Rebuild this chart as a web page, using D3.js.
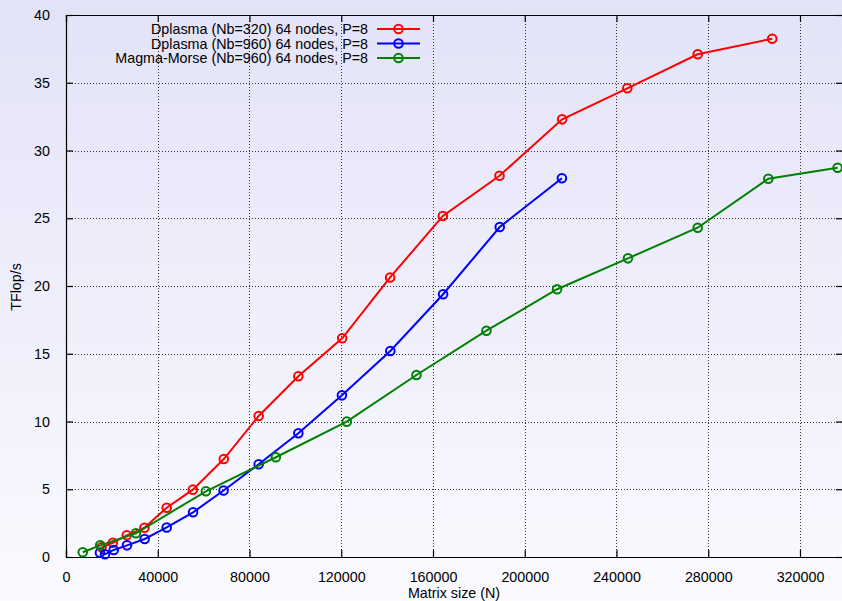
<!DOCTYPE html>
<html>
<head>
<meta charset="utf-8">
<script src="https://cdn.jsdelivr.net/npm/d3@7"></script>
<style>
html,body{margin:0;padding:0;overflow:hidden;}
svg{display:block;font-family:"Liberation Sans",Arial,Helvetica,sans-serif;}
</style>
</head>
<body>
<svg id="chart" width="842" height="601"></svg>
<script>
// ---- data ----
const xTicks = [0, 40000, 80000, 120000, 160000, 200000, 240000, 280000, 320000];
const yTicks = [0, 5, 10, 15, 20, 25, 30, 35, 40];
const seriesNames = [
  "Dplasma (Nb=320) 64 nodes, P=8",
  "Dplasma (Nb=960) 64 nodes, P=8",
  "Magma-Morse (Nb=960) 64 nodes, P=8"
];
const seriesColors = ["#ff0000", "#0000ff", "#008000"];

const redN   = [15500, 20400, 26500, 34200, 43900, 55300, 68800, 84000, 101300, 120400, 141300, 164300, 189000, 216300, 244700, 275400, 307900];
const redV   = [0.72, 1.05, 1.60, 2.16, 3.64, 4.97, 7.23, 10.41, 13.34, 16.14, 20.63, 25.17, 28.14, 32.30, 34.59, 37.10, 38.25];
const blueN  = [14800, 17000, 20800, 26600, 34300, 43900, 55400, 68700, 84000, 101300, 120300, 141400, 164400, 189100, 216200];
const blueV  = [0.32, 0.20, 0.52, 0.86, 1.33, 2.18, 3.30, 4.91, 6.84, 9.13, 11.93, 15.20, 19.39, 24.35, 27.95];
const greenN = [7300, 14900, 30500, 61000, 91500, 122400, 152800, 183300, 214100, 245000, 275400, 306200, 336400];
const greenV = [0.35, 0.86, 1.75, 4.85, 7.36, 9.99, 13.43, 16.70, 19.76, 22.04, 24.30, 27.92, 28.73];

const seriesN = [redN, blueN, greenN];
const seriesV = [redV, blueV, greenV];

// ---- layout ----
const svg = d3.select("#chart");
const W = 842, H = 601;
const pL = 66, pR = 843, pT = 15, pB = 557;
const FS = 14.3;

const defs = svg.append("defs");
const grad = defs.append("linearGradient").attr("id", "bg").attr("x1", 0).attr("y1", 0).attr("x2", 0).attr("y2", 1);
grad.append("stop").attr("offset", "0%").attr("stop-color", "#e3e3f8");
grad.append("stop").attr("offset", "100%").attr("stop-color", "#fafaff");
svg.append("rect").attr("width", W).attr("height", H).attr("fill", "url(#bg)");

const x = d3.scaleLinear().domain([0, 338750]).range([pL, pR]);
const y = d3.scaleLinear().domain([0, 40]).range([pB, pT]);

// grid
const grid = svg.append("g").attr("stroke", "#333").attr("stroke-width", 1).attr("stroke-dasharray", "1,2");
grid.selectAll("line.gx").data(xTicks.filter(d => d > 0)).enter().append("line")
  .attr("x1", d => Math.round(x(d)) + 0.5).attr("x2", d => Math.round(x(d)) + 0.5)
  .attr("y1", pT).attr("y2", pB);
grid.selectAll("line.gy").data(yTicks.filter(d => d > 0 && d < 40)).enter().append("line")
  .attr("y1", d => Math.round(y(d)) + 0.5).attr("y2", d => Math.round(y(d)) + 0.5)
  .attr("x1", pL).attr("x2", pR);

// axes (gnuplot-like inward ticks)
const axL = d3.axisLeft(y).tickValues(yTicks).tickSize(-7).tickPadding(16).tickFormat(d3.format("d"));
const axR = d3.axisRight(y).tickValues(yTicks).tickSize(-7).tickFormat("");
const axB = d3.axisBottom(x).tickValues(xTicks).tickSize(-7).tickPadding(15).tickFormat(d3.format("d"));
const axT = d3.axisTop(x).tickValues(xTicks).tickSize(-7).tickFormat("");

function style(g) {
  g.selectAll("path").attr("stroke", "#000").attr("stroke-width", 1.2);
  g.selectAll("line").attr("stroke", "#000").attr("stroke-width", 1.2);
  g.selectAll("text").attr("fill", "#000").attr("font-size", FS)
    .attr("font-family", "'Liberation Sans',Arial,Helvetica,sans-serif");
}
svg.append("g").attr("transform", `translate(${pL},0)`).call(axL).call(style);
svg.append("g").attr("transform", `translate(${pR},0)`).call(axR).call(style);
svg.append("g").attr("transform", `translate(0,${pB})`).call(axB).call(style);
svg.append("g").attr("transform", `translate(0,${pT})`).call(axT).call(style);

// axis titles
svg.append("text").attr("x", 454).attr("y", 598).attr("text-anchor", "middle")
  .attr("font-size", FS).text("Matrix size (N)");
svg.append("text").attr("transform", "translate(21,287) rotate(-90)").attr("text-anchor", "middle")
  .attr("font-size", FS).text("TFlop/s");

// series
const line = d3.line().x(d => x(d[0])).y(d => y(d[1]));
seriesN.forEach((ns, i) => {
  const pts = ns.map((n, j) => [n, seriesV[i][j]]);
  const g = svg.append("g");
  g.append("path").attr("d", line(pts)).attr("fill", "none")
    .attr("stroke", seriesColors[i]).attr("stroke-width", 2);
  g.selectAll("circle").data(pts).enter().append("circle")
    .attr("cx", d => x(d[0])).attr("cy", d => y(d[1])).attr("r", 4.3)
    .attr("fill", "none").attr("stroke", seriesColors[i]).attr("stroke-width", 2);
});

// legend
const legY = [29, 43.5, 58];
seriesNames.forEach((name, i) => {
  const g = svg.append("g");
  g.append("text").attr("x", 368).attr("y", legY[i]).attr("dy", "0.35em")
    .attr("text-anchor", "end").attr("font-size", FS).text(name);
  g.append("line").attr("x1", 377).attr("x2", 420).attr("y1", legY[i]).attr("y2", legY[i])
    .attr("stroke", seriesColors[i]).attr("stroke-width", 2);
  g.append("circle").attr("cx", 398.5).attr("cy", legY[i]).attr("r", 4.3)
    .attr("fill", "none").attr("stroke", seriesColors[i]).attr("stroke-width", 2);
});
</script>
</body>
</html>
